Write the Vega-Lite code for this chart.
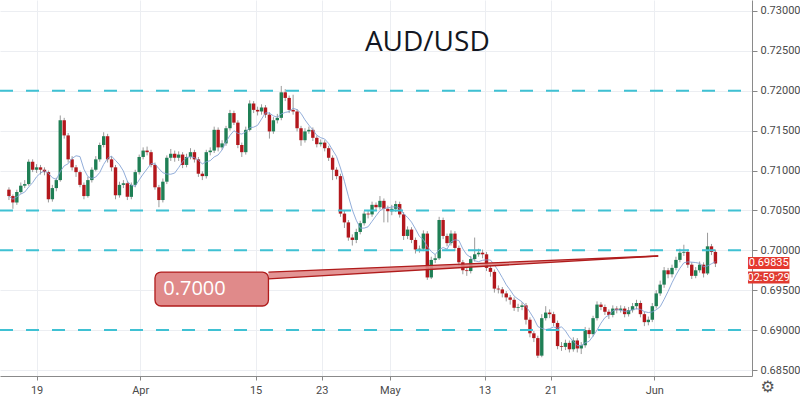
{
"$schema":"https://vega.github.io/schema/vega-lite/v6.json",
"width":752,"height":376,
"autosize":{"type":"none"},
"padding":{"left":0,"top":0,"right":48,"bottom":21},
"background":"white",
"config":{"view":{"stroke":null},"font":"Roboto"},
"datasets":{
"bars":[
{"i":1,"o":0.7076,"h":0.7079,"l":0.7063,"c":0.7068},
{"i":2,"o":0.7068,"h":0.7070,"l":0.7052,"c":0.7060},
{"i":3,"o":0.7060,"h":0.7076,"l":0.7057,"c":0.7073},
{"i":4,"o":0.7073,"h":0.7085,"l":0.7071,"c":0.7081},
{"i":5,"o":0.7081,"h":0.7088,"l":0.7078,"c":0.7083},
{"i":6,"o":0.7083,"h":0.7114,"l":0.7081,"c":0.7111},
{"i":7,"o":0.7111,"h":0.7114,"l":0.7098,"c":0.7101},
{"i":8,"o":0.7101,"h":0.7108,"l":0.7097,"c":0.7104},
{"i":9,"o":0.7104,"h":0.7107,"l":0.7095,"c":0.7101},
{"i":10,"o":0.7101,"h":0.7104,"l":0.7094,"c":0.7098},
{"i":11,"o":0.7098,"h":0.7100,"l":0.7060,"c":0.7064},
{"i":12,"o":0.7064,"h":0.7082,"l":0.7061,"c":0.7078},
{"i":13,"o":0.7078,"h":0.7091,"l":0.7074,"c":0.7088},
{"i":14,"o":0.7088,"h":0.7169,"l":0.7086,"c":0.7163},
{"i":15,"o":0.7163,"h":0.7166,"l":0.7140,"c":0.7144},
{"i":16,"o":0.7144,"h":0.7147,"l":0.7110,"c":0.7114},
{"i":17,"o":0.7114,"h":0.7118,"l":0.7100,"c":0.7104},
{"i":18,"o":0.7104,"h":0.7107,"l":0.7092,"c":0.7098},
{"i":19,"o":0.7098,"h":0.7100,"l":0.7079,"c":0.7082},
{"i":20,"o":0.7082,"h":0.7085,"l":0.7064,"c":0.7068},
{"i":21,"o":0.7068,"h":0.7092,"l":0.7066,"c":0.7088},
{"i":22,"o":0.7088,"h":0.7104,"l":0.7085,"c":0.7101},
{"i":23,"o":0.7101,"h":0.7118,"l":0.7099,"c":0.7114},
{"i":24,"o":0.7114,"h":0.7135,"l":0.7111,"c":0.7132},
{"i":25,"o":0.7132,"h":0.7148,"l":0.7129,"c":0.7143},
{"i":26,"o":0.7143,"h":0.7146,"l":0.7110,"c":0.7114},
{"i":27,"o":0.7114,"h":0.7118,"l":0.7099,"c":0.7104},
{"i":28,"o":0.7104,"h":0.7107,"l":0.7064,"c":0.7069},
{"i":29,"o":0.7069,"h":0.7086,"l":0.7066,"c":0.7082},
{"i":30,"o":0.7082,"h":0.7088,"l":0.7078,"c":0.7084},
{"i":31,"o":0.7084,"h":0.7087,"l":0.7063,"c":0.7067},
{"i":32,"o":0.7067,"h":0.7085,"l":0.7064,"c":0.7082},
{"i":33,"o":0.7082,"h":0.7101,"l":0.7079,"c":0.7098},
{"i":34,"o":0.7098,"h":0.7120,"l":0.7095,"c":0.7117},
{"i":35,"o":0.7117,"h":0.7129,"l":0.7114,"c":0.7125},
{"i":36,"o":0.7125,"h":0.7130,"l":0.7119,"c":0.7123},
{"i":37,"o":0.7123,"h":0.7126,"l":0.7104,"c":0.7107},
{"i":38,"o":0.7107,"h":0.7110,"l":0.7076,"c":0.7079},
{"i":39,"o":0.7079,"h":0.7082,"l":0.7054,"c":0.7063},
{"i":40,"o":0.7063,"h":0.7090,"l":0.7060,"c":0.7086},
{"i":41,"o":0.7086,"h":0.7119,"l":0.7083,"c":0.7116},
{"i":42,"o":0.7116,"h":0.7127,"l":0.7112,"c":0.7121},
{"i":43,"o":0.7121,"h":0.7125,"l":0.7111,"c":0.7116},
{"i":44,"o":0.7116,"h":0.7124,"l":0.7112,"c":0.7120},
{"i":45,"o":0.7120,"h":0.7123,"l":0.7103,"c":0.7107},
{"i":46,"o":0.7107,"h":0.7121,"l":0.7104,"c":0.7117},
{"i":47,"o":0.7117,"h":0.7128,"l":0.7114,"c":0.7123},
{"i":48,"o":0.7123,"h":0.7126,"l":0.7110,"c":0.7114},
{"i":49,"o":0.7114,"h":0.7117,"l":0.7092,"c":0.7096},
{"i":50,"o":0.7096,"h":0.7099,"l":0.7088,"c":0.7093},
{"i":51,"o":0.7093,"h":0.7126,"l":0.7090,"c":0.7123},
{"i":52,"o":0.7123,"h":0.7129,"l":0.7119,"c":0.7125},
{"i":53,"o":0.7125,"h":0.7155,"l":0.7122,"c":0.7151},
{"i":54,"o":0.7151,"h":0.7154,"l":0.7124,"c":0.7129},
{"i":55,"o":0.7129,"h":0.7138,"l":0.7126,"c":0.7134},
{"i":56,"o":0.7134,"h":0.7156,"l":0.7131,"c":0.7153},
{"i":57,"o":0.7153,"h":0.7176,"l":0.7150,"c":0.7172},
{"i":58,"o":0.7172,"h":0.7175,"l":0.7157,"c":0.7160},
{"i":59,"o":0.7160,"h":0.7163,"l":0.7128,"c":0.7132},
{"i":60,"o":0.7132,"h":0.7135,"l":0.7117,"c":0.7123},
{"i":61,"o":0.7123,"h":0.7155,"l":0.7120,"c":0.7151},
{"i":62,"o":0.7151,"h":0.7188,"l":0.7149,"c":0.7184},
{"i":63,"o":0.7184,"h":0.7187,"l":0.7172,"c":0.7176},
{"i":64,"o":0.7176,"h":0.7180,"l":0.7169,"c":0.7174},
{"i":65,"o":0.7174,"h":0.7183,"l":0.7170,"c":0.7179},
{"i":66,"o":0.7179,"h":0.7182,"l":0.7166,"c":0.7170},
{"i":67,"o":0.7170,"h":0.7173,"l":0.7140,"c":0.7149},
{"i":68,"o":0.7149,"h":0.7167,"l":0.7146,"c":0.7163},
{"i":69,"o":0.7163,"h":0.7171,"l":0.7159,"c":0.7166},
{"i":70,"o":0.7166,"h":0.7206,"l":0.7163,"c":0.7198},
{"i":71,"o":0.7198,"h":0.7202,"l":0.7187,"c":0.7191},
{"i":72,"o":0.7191,"h":0.7194,"l":0.7172,"c":0.7176},
{"i":73,"o":0.7176,"h":0.7195,"l":0.7170,"c":0.7174},
{"i":74,"o":0.7174,"h":0.7177,"l":0.7149,"c":0.7153},
{"i":75,"o":0.7153,"h":0.7156,"l":0.7131,"c":0.7138},
{"i":76,"o":0.7138,"h":0.7153,"l":0.7135,"c":0.7149},
{"i":77,"o":0.7149,"h":0.7155,"l":0.7146,"c":0.7151},
{"i":78,"o":0.7151,"h":0.7154,"l":0.7137,"c":0.7141},
{"i":79,"o":0.7141,"h":0.7144,"l":0.7129,"c":0.7133},
{"i":80,"o":0.7133,"h":0.7139,"l":0.7130,"c":0.7135},
{"i":81,"o":0.7135,"h":0.7138,"l":0.7124,"c":0.7128},
{"i":82,"o":0.7128,"h":0.7131,"l":0.7112,"c":0.7116},
{"i":83,"o":0.7116,"h":0.7119,"l":0.7088,"c":0.7101},
{"i":84,"o":0.7101,"h":0.7104,"l":0.7089,"c":0.7093},
{"i":85,"o":0.7093,"h":0.7096,"l":0.7042,"c":0.7046},
{"i":86,"o":0.7046,"h":0.7050,"l":0.7028,"c":0.7035},
{"i":87,"o":0.7035,"h":0.7038,"l":0.7012,"c":0.7016},
{"i":88,"o":0.7016,"h":0.7020,"l":0.7006,"c":0.7013},
{"i":89,"o":0.7013,"h":0.7027,"l":0.7009,"c":0.7023},
{"i":90,"o":0.7023,"h":0.7037,"l":0.7020,"c":0.7034},
{"i":91,"o":0.7034,"h":0.7049,"l":0.7031,"c":0.7046},
{"i":92,"o":0.7046,"h":0.7050,"l":0.7040,"c":0.7045},
{"i":93,"o":0.7045,"h":0.7061,"l":0.7042,"c":0.7057},
{"i":94,"o":0.7057,"h":0.7060,"l":0.7050,"c":0.7054},
{"i":95,"o":0.7054,"h":0.7068,"l":0.7051,"c":0.7062},
{"i":96,"o":0.7062,"h":0.7065,"l":0.7035,"c":0.7052},
{"i":97,"o":0.7052,"h":0.7056,"l":0.7035,"c":0.7049},
{"i":98,"o":0.7049,"h":0.7057,"l":0.7044,"c":0.7052},
{"i":99,"o":0.7052,"h":0.7062,"l":0.7048,"c":0.7058},
{"i":100,"o":0.7058,"h":0.7061,"l":0.7041,"c":0.7045},
{"i":101,"o":0.7045,"h":0.7048,"l":0.7013,"c":0.7018},
{"i":102,"o":0.7018,"h":0.7030,"l":0.7014,"c":0.7026},
{"i":103,"o":0.7026,"h":0.7029,"l":0.7009,"c":0.7013},
{"i":104,"o":0.7013,"h":0.7016,"l":0.6996,"c":0.7001},
{"i":105,"o":0.7001,"h":0.7006,"l":0.6997,"c":0.7002},
{"i":106,"o":0.7002,"h":0.7025,"l":0.6999,"c":0.7021},
{"i":107,"o":0.7021,"h":0.7024,"l":0.6963,"c":0.6966},
{"i":108,"o":0.6966,"h":0.6992,"l":0.6964,"c":0.6988},
{"i":109,"o":0.6988,"h":0.6995,"l":0.6984,"c":0.6990},
{"i":110,"o":0.6990,"h":0.7042,"l":0.6988,"c":0.7038},
{"i":111,"o":0.7038,"h":0.7041,"l":0.7014,"c":0.7018},
{"i":112,"o":0.7018,"h":0.7021,"l":0.7005,"c":0.7009},
{"i":113,"o":0.7009,"h":0.7025,"l":0.7006,"c":0.7021},
{"i":114,"o":0.7021,"h":0.7024,"l":0.6999,"c":0.7003},
{"i":115,"o":0.7003,"h":0.7006,"l":0.6980,"c":0.6985},
{"i":116,"o":0.6985,"h":0.6988,"l":0.6970,"c":0.6975},
{"i":117,"o":0.6975,"h":0.6979,"l":0.6968,"c":0.6974},
{"i":118,"o":0.6974,"h":0.6993,"l":0.6971,"c":0.6989},
{"i":119,"o":0.6989,"h":0.7016,"l":0.6986,"c":0.6995},
{"i":120,"o":0.6995,"h":0.7002,"l":0.6992,"c":0.6997},
{"i":121,"o":0.6997,"h":0.7001,"l":0.6990,"c":0.6995},
{"i":122,"o":0.6995,"h":0.6998,"l":0.6974,"c":0.6978},
{"i":123,"o":0.6978,"h":0.6982,"l":0.6967,"c":0.6973},
{"i":124,"o":0.6973,"h":0.6976,"l":0.6947,"c":0.6952},
{"i":125,"o":0.6952,"h":0.6956,"l":0.6946,"c":0.6951},
{"i":126,"o":0.6951,"h":0.6954,"l":0.6941,"c":0.6946},
{"i":127,"o":0.6946,"h":0.6949,"l":0.6936,"c":0.6941},
{"i":128,"o":0.6941,"h":0.6944,"l":0.6932,"c":0.6938},
{"i":129,"o":0.6938,"h":0.6941,"l":0.6924,"c":0.6928},
{"i":130,"o":0.6928,"h":0.6933,"l":0.6923,"c":0.6929},
{"i":131,"o":0.6929,"h":0.6935,"l":0.6925,"c":0.6931},
{"i":132,"o":0.6931,"h":0.6934,"l":0.6907,"c":0.6913},
{"i":133,"o":0.6913,"h":0.6916,"l":0.6891,"c":0.6896},
{"i":134,"o":0.6896,"h":0.6899,"l":0.6885,"c":0.6890},
{"i":135,"o":0.6890,"h":0.6893,"l":0.6865,"c":0.6868},
{"i":136,"o":0.6868,"h":0.6920,"l":0.6866,"c":0.6915},
{"i":137,"o":0.6915,"h":0.6930,"l":0.6912,"c":0.6922},
{"i":138,"o":0.6922,"h":0.6926,"l":0.6915,"c":0.6920},
{"i":139,"o":0.6920,"h":0.6923,"l":0.6905,"c":0.6909},
{"i":140,"o":0.6909,"h":0.6912,"l":0.6876,"c":0.6880},
{"i":141,"o":0.6880,"h":0.6885,"l":0.6874,"c":0.6879},
{"i":142,"o":0.6879,"h":0.6888,"l":0.6875,"c":0.6884},
{"i":143,"o":0.6884,"h":0.6887,"l":0.6872,"c":0.6876},
{"i":144,"o":0.6876,"h":0.6891,"l":0.6873,"c":0.6887},
{"i":145,"o":0.6887,"h":0.6890,"l":0.6872,"c":0.6877},
{"i":146,"o":0.6877,"h":0.6885,"l":0.6870,"c":0.6881},
{"i":147,"o":0.6881,"h":0.6904,"l":0.6878,"c":0.6900},
{"i":148,"o":0.6900,"h":0.6903,"l":0.6890,"c":0.6895},
{"i":149,"o":0.6895,"h":0.6918,"l":0.6892,"c":0.6915},
{"i":150,"o":0.6915,"h":0.6936,"l":0.6912,"c":0.6932},
{"i":151,"o":0.6932,"h":0.6935,"l":0.6925,"c":0.6929},
{"i":152,"o":0.6929,"h":0.6932,"l":0.6919,"c":0.6923},
{"i":153,"o":0.6923,"h":0.6926,"l":0.6914,"c":0.6919},
{"i":154,"o":0.6919,"h":0.6931,"l":0.6916,"c":0.6927},
{"i":155,"o":0.6927,"h":0.6930,"l":0.6921,"c":0.6925},
{"i":156,"o":0.6925,"h":0.6931,"l":0.6922,"c":0.6927},
{"i":157,"o":0.6927,"h":0.6930,"l":0.6916,"c":0.6920},
{"i":158,"o":0.6920,"h":0.6929,"l":0.6917,"c":0.6925},
{"i":159,"o":0.6925,"h":0.6934,"l":0.6922,"c":0.6930},
{"i":160,"o":0.6930,"h":0.6938,"l":0.6926,"c":0.6934},
{"i":161,"o":0.6934,"h":0.6937,"l":0.6916,"c":0.6920},
{"i":162,"o":0.6920,"h":0.6923,"l":0.6905,"c":0.6910},
{"i":163,"o":0.6910,"h":0.6917,"l":0.6906,"c":0.6913},
{"i":164,"o":0.6913,"h":0.6934,"l":0.6910,"c":0.6930},
{"i":165,"o":0.6930,"h":0.6950,"l":0.6927,"c":0.6946},
{"i":166,"o":0.6946,"h":0.6962,"l":0.6943,"c":0.6957},
{"i":167,"o":0.6957,"h":0.6979,"l":0.6953,"c":0.6975},
{"i":168,"o":0.6975,"h":0.6978,"l":0.6965,"c":0.6970},
{"i":169,"o":0.6970,"h":0.6982,"l":0.6966,"c":0.6978},
{"i":170,"o":0.6978,"h":0.6992,"l":0.6975,"c":0.6988},
{"i":171,"o":0.6988,"h":0.7002,"l":0.6985,"c":0.6997},
{"i":172,"o":0.6997,"h":0.7007,"l":0.6993,"c":0.6998},
{"i":173,"o":0.6998,"h":0.7001,"l":0.6978,"c":0.6982},
{"i":174,"o":0.6982,"h":0.6985,"l":0.6964,"c":0.6968},
{"i":175,"o":0.6968,"h":0.6979,"l":0.6965,"c":0.6975},
{"i":176,"o":0.6975,"h":0.6986,"l":0.6972,"c":0.6982},
{"i":177,"o":0.6982,"h":0.6985,"l":0.6966,"c":0.6971},
{"i":178,"o":0.6971,"h":0.7022,"l":0.6969,"c":0.7005},
{"i":179,"o":0.7005,"h":0.7008,"l":0.6994,"c":0.6998},
{"i":180,"o":0.6998,"h":0.7001,"l":0.6979,"c":0.69835}
],
"levels":[{"lvl":0.720},{"lvl":0.705},{"lvl":0.700},{"lvl":0.690}],
"wedge":[{"wx":66.75,"wt":0.69728,"wb":0.69641},{"wx":165.5,"wt":0.69929,"wb":0.69929}]
},
"layer":[
{"data":{"name":"bars"},
 "mark":{"type":"rule","color":"#9a9a9a","strokeWidth":1},
 "encoding":{
  "x":{"field":"i","type":"quantitative","title":null,
   "scale":{"domain":[0,188],"nice":false,"zero":false},
   "axis":{"orient":"bottom","values":[8,34.25,63.5,80.25,97.5,121.5,138.25,164.5],
    "labelExpr":"datum.value==8?'19':datum.value==34.25?'Apr':datum.value==63.5?'15':datum.value==80.25?'23':datum.value==97.5?'May':datum.value==121.5?'13':datum.value==138.25?'21':'Jun'",
    "grid":true,"gridColor":"#eceef2","tickSize":4,"tickColor":"#888","domainColor":"#8a8a8a",
    "labelColor":"#4a4a4a","labelFontSize":11,"labelPadding":4,"labelFont":"Roboto","labelFlush":false,"labelOverlap":false}},
  "y":{"field":"l","type":"quantitative","title":null,
   "scale":{"domain":[0.68425,0.73137],"nice":false,"zero":false},
   "axis":{"orient":"right","values":[0.685,0.69,0.695,0.7,0.705,0.71,0.715,0.72,0.725,0.73],
    "format":".5f","grid":true,"gridColor":"#eceef2","tickSize":5,"tickColor":"#888","domainColor":"#8a8a8a",
    "labelColor":"#4a4a4a","labelFontSize":11,"labelPadding":3,"labelFont":"Roboto","labelOverlap":false,"labelFlush":false}},
  "y2":{"field":"h"}
 }},
{"data":{"name":"bars"},
 "mark":{"type":"bar","width":3.4},
 "encoding":{
  "x":{"field":"i","type":"quantitative","title":null},
  "y":{"field":"o","type":"quantitative","title":null},
  "y2":{"field":"c"},
  "color":{"condition":{"test":"datum.c >= datum.o","value":"#1f7f55"},"value":"#b3171c"}
 }},
{"data":{"name":"bars"},
 "transform":[{"window":[{"op":"mean","field":"c","as":"ma"}],"frame":[-5,0],"sort":[{"field":"i"}]}],
 "mark":{"type":"line","color":"#7f9fd2","strokeWidth":1,"opacity":0.85},
 "encoding":{
  "x":{"field":"i","type":"quantitative","title":null},
  "y":{"field":"ma","type":"quantitative","title":null}
 }},
{"data":{"name":"levels"},
 "mark":{"type":"rule","color":"#3fc1d3","strokeWidth":2,"strokeDash":[13,13],"strokeDashOffset":15},
 "encoding":{"y":{"field":"lvl","type":"quantitative","title":null}}},
{"data":{"name":"wedge"},
 "mark":{"type":"area","color":"#e08a8a","opacity":0.9},
 "encoding":{
  "x":{"field":"wx","type":"quantitative","title":null},
  "y":{"field":"wt","type":"quantitative","title":null},
  "y2":{"field":"wb"}
 }},
{"data":{"values":[{}]},
 "mark":{"type":"rule","color":"#b01c1c","strokeWidth":1.3},
 "encoding":{"x":{"datum":66.75},"x2":{"datum":165.5},"y":{"datum":0.69728},"y2":{"datum":0.69929}}},
{"data":{"values":[{}]},
 "mark":{"type":"rule","color":"#b01c1c","strokeWidth":1.3},
 "encoding":{"x":{"datum":66.75},"x2":{"datum":165.5},"y":{"datum":0.69641},"y2":{"datum":0.69929}}},
{"data":{"values":[{}]},
 "mark":{"type":"rect","fill":"#e08a8a","stroke":"#b01c1c","strokeWidth":1.3,"cornerRadius":6},
 "encoding":{"x":{"datum":38},"x2":{"datum":66.75},"y":{"datum":0.69728},"y2":{"datum":0.69302}}},
{"data":{"values":[{}]},
 "mark":{"type":"text","text":"0.7000","color":"white","fontSize":20,"font":"Open Sans","align":"left","baseline":"middle"},
 "encoding":{"x":{"datum":40.1},"y":{"datum":0.69515}}},
{"data":{"values":[{}]},
 "mark":{"type":"text","text":"AUD/USD","color":"#131722","fontSize":28,"font":"Open Sans","align":"center","baseline":"middle"},
 "encoding":{"x":{"datum":107},"y":{"datum":0.72600}}},
{"data":{"values":[{}]},
 "mark":{"type":"rect","fill":"#e5392f"},
 "encoding":{"x":{"datum":188.25},"x2":{"datum":198.75},"y":{"datum":0.69916},"y2":{"datum":0.69766}}},
{"data":{"values":[{}]},
 "mark":{"type":"rect","fill":"#e03a30"},
 "encoding":{"x":{"datum":188.25},"x2":{"datum":198.75},"y":{"datum":0.69734},"y2":{"datum":0.69584}}},
{"data":{"values":[{}]},
 "mark":{"type":"text","text":"0.69835","color":"white","fontSize":11,"font":"Roboto","align":"center","baseline":"middle"},
 "encoding":{"x":{"datum":193.5},"y":{"datum":0.69841}}},
{"data":{"values":[{}]},
 "mark":{"type":"text","text":"02:59:29","color":"white","fontSize":11,"font":"Roboto","align":"center","baseline":"middle"},
 "encoding":{"x":{"datum":193.5},"y":{"datum":0.69659}}},
{"data":{"values":[{}]},
 "mark":{"type":"text","text":"⚙","color":"#555","fontSize":16,"font":"DejaVu Sans","align":"center","baseline":"middle"},
 "encoding":{"x":{"datum":193.25},"y":{"datum":0.68287}}}
]
}
